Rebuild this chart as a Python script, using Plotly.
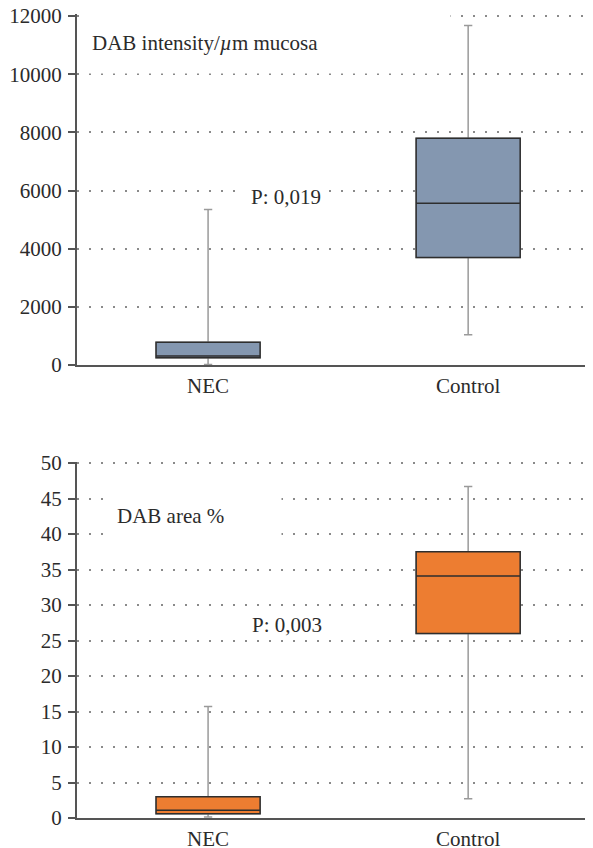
import plotly.graph_objects as go

categories = ["NEC", "Control"]

# Panel 1: DAB intensity / µm mucosa
int_lower = [20, 1040]
int_q1 = [250, 3700]
int_median = [310, 5560]
int_q3 = [780, 7800]
int_upper = [5350, 11670]
int_ticks = [0, 2000, 4000, 6000, 8000, 10000, 12000]
int_ticktext = ["0", "2000", "4000", "6000", "8000", "10000", "12000"]

# Panel 2: DAB area %
area_lower = [0.15, 2.7]
area_q1 = [0.6, 26.0]
area_median = [1.1, 34.1]
area_q3 = [3.0, 37.5]
area_upper = [15.7, 46.7]
area_ticks = [0, 5, 10, 15, 20, 25, 30, 35, 40, 45, 50]
area_ticktext = ["0", "5", "10", "15", "20", "25", "30", "35", "40", "45", "50"]

p_values = ["P: 0,019", "P: 0,003"]
labels = ["DAB intensity/<i>µ</i>m mucosa", "DAB area %"]

FONT = "Liberation Serif"
FS = 21
TXT = "#2b2b2b"
BLUE = "#8497B0"
ORANGE = "#ED7D31"
EDGE = "#2e2e2e"
WHISK = "#9a9a9a"

OFF = 8  # page body margin
W, H = 593 - OFF, 848 - OFF
L = 77 - OFF
fig = go.Figure()

def add_panel(xa, ya, lo, q1, med, q3, up, fill):
    # whiskers (gray)
    fig.add_trace(go.Box(
        x=categories, q1=q1, median=med, q3=q3, lowerfence=lo, upperfence=up,
        fillcolor=fill, line=dict(color=WHISK, width=1.5), whiskerwidth=0.08,
        width=0.4, boxpoints=False, xaxis=xa, yaxis=ya, showlegend=False,
        hoverinfo="skip"))
    # box (dark outline)
    fig.add_trace(go.Box(
        x=categories, q1=q1, median=med, q3=q3, lowerfence=q1, upperfence=q3,
        fillcolor=fill, line=dict(color=EDGE, width=1.5), whiskerwidth=0,
        width=0.4, boxpoints=False, xaxis=xa, yaxis=ya, showlegend=False,
        hoverinfo="skip"))

add_panel("x", "y", int_lower, int_q1, int_median, int_q3, int_upper, BLUE)
add_panel("x2", "y2", area_lower, area_q1, area_median, area_q3, area_upper, ORANGE)

# pixel rows (reference coords) of the range ends; slightly padded tops
top_px = (14.2, 365)
bot_px = (461.6, 818)
top_range = [0, 12062]
bot_range = [0, 50.2]

def dom(px):
    return [(H - (px[1] - OFF)) / H, (H - (px[0] - OFF)) / H]

xcommon = dict(
    type="category", range=[-0.504, 1.48], showline=True, linecolor="#555",
    linewidth=2, showgrid=False, ticks="", automargin=False,
    tickfont=dict(family=FONT, size=FS, color=TXT), domain=[0, 1],
    zeroline=False,
)
ycommon = dict(
    showline=True, linecolor="#555", linewidth=2, ticks="outside", ticklen=7,
    tickwidth=1.5, tickcolor="#555", showgrid=True, gridcolor="#8a8a8a",
    gridwidth=1.5, griddash="1.5px,10.5px", zeroline=False, automargin=False,
    tickfont=dict(family=FONT, size=FS, color=TXT), ticklabelstandoff=2,
    ticklabeloverflow="allow",
)

fig.update_layout(
    width=W, height=H, margin=dict(l=L, r=0, t=0, b=0, autoexpand=False),
    paper_bgcolor="white", plot_bgcolor="white", boxmode="overlay",
    xaxis=dict(**xcommon, anchor="y", ticklabelstandoff=1),
    yaxis=dict(**ycommon, anchor="x", domain=dom(top_px), range=top_range,
               tickvals=int_ticks, ticktext=int_ticktext),
    xaxis2=dict(**xcommon, anchor="y2", ticklabelstandoff=1),
    yaxis2=dict(**ycommon, anchor="x2", domain=dom(bot_px), range=bot_range,
                tickvals=area_ticks, ticktext=area_ticktext),
)

pw = W - L
def px_x(px):
    return (px - OFF - L) / pw
def px_y(py):
    return (H - (py - OFF)) / H

# label boxes (white background hides grid)
fig.add_annotation(
    xref="paper", yref="paper", x=px_x(79), y=px_y(12), xanchor="left",
    yanchor="top", text=labels[0], showarrow=False, align="left",
    width=346, height=36, borderpad=12, bgcolor="white",
    font=dict(family=FONT, size=FS, color=TXT))
fig.add_annotation(
    xref="paper", yref="paper", x=px_x(105), y=px_y(490), xanchor="left",
    yanchor="top", text=labels[1], showarrow=False, align="left",
    width=153, height=28, borderpad=11, bgcolor="white",
    font=dict(family=FONT, size=FS, color=TXT))
fig.add_annotation(
    xref="paper", yref="paper", x=px_x(286), y=px_y(197), xanchor="center",
    yanchor="middle", text=p_values[0], showarrow=False,
    bgcolor="white", borderpad=6,
    font=dict(family=FONT, size=FS, color=TXT))
fig.add_annotation(
    xref="paper", yref="paper", x=px_x(287), y=px_y(625), xanchor="center",
    yanchor="middle", text=p_values[1], showarrow=False,
    bgcolor="rgba(0,0,0,0)", borderpad=2,
    font=dict(family=FONT, size=FS, color=TXT))

fig.write_html("out.html")
